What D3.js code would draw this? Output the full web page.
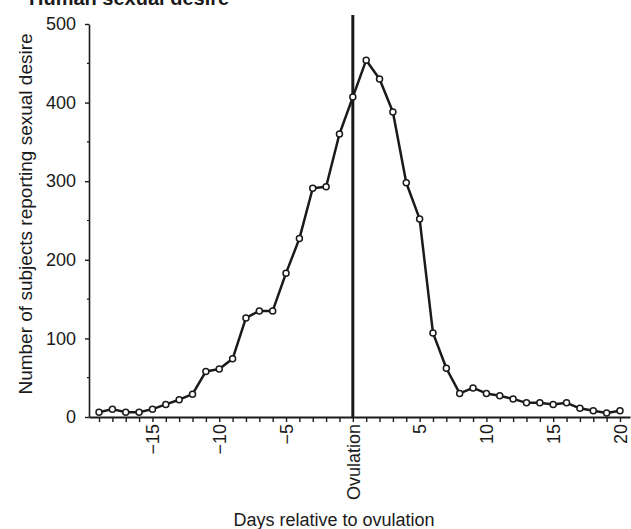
<!DOCTYPE html>
<html>
<head>
<meta charset="utf-8">
<script src="https://cdn.jsdelivr.net/npm/d3@7"></script>
<style>
  body { margin: 0; background: #fff; }
  svg { display: block; font-family: "Liberation Sans", Arial, sans-serif; }
</style>
</head>
<body>
<svg id="chart" width="631" height="529"></svg>
<script>
// days relative to ovulation and number of subjects reporting desire
const days = d3.range(-19, 21);
const counts = [6, 10, 6, 6, 10, 16, 22, 29, 58, 61,
                74, 126, 135, 135, 183, 227, 291, 293, 360, 407,
                454, 430, 388, 298, 252, 107, 62, 30, 37, 30,
                27, 23, 18, 18, 16, 18, 11, 8, 5, 8];
const xLabelTicks = [-15, -10, -5, 0, 5, 10, 15, 20];
const yTicks = [0, 100, 200, 300, 400, 500];
const yMinorTicks = [50, 150, 250, 350, 450];

const svg = d3.select("#chart");
const ink = "#1a1a1a";

const x = d3.scaleLinear().domain([-19.75, 20.75]).range([89, 630]);
const y = d3.scaleLinear().domain([0, 500]).range([417, 24]);

const points = days.map((d, i) => ({ day: d, value: counts[i] }));

// title (cut at top in original)
svg.append("text")
    .attr("x", 29)
    .attr("y", 5)
    .attr("font-size", 20)
    .attr("font-weight", "bold")
    .attr("fill", ink)
    .text("Human sexual desire");

// y axis
const yAxis = svg.append("g")
    .attr("transform", "translate(89,0)")
    .call(d3.axisLeft(y).tickValues(yTicks).tickSize(4).tickSizeOuter(0).tickPadding(9));
yAxis.select(".domain").attr("stroke", ink).attr("stroke-width", 1.6);
yAxis.selectAll(".tick line").attr("stroke", ink).attr("stroke-width", 1.4);
yAxis.selectAll("text").attr("font-size", 18).attr("fill", ink);

svg.append("g").selectAll("line")
    .data(yMinorTicks)
    .enter().append("line")
    .attr("x1", 87).attr("x2", 89)
    .attr("y1", d => y(d)).attr("y2", d => y(d))
    .attr("stroke", ink).attr("stroke-width", 1.2);

// x axis
const xAxis = svg.append("g")
    .attr("transform", "translate(0,417)")
    .call(d3.axisBottom(x).tickValues(days).tickSize(5).tickSizeOuter(0)
        .tickFormat(d => {
            if (xLabelTicks.indexOf(d) < 0) return "";
            if (d === 0) return "Ovulation";
            return d < 0 ? "\u2212" + Math.abs(d) : String(d);
        }));
xAxis.select(".domain").attr("stroke", ink).attr("stroke-width", 2);
xAxis.selectAll(".tick line").attr("stroke", ink).attr("stroke-width", 1.4);
xAxis.selectAll("text")
    .attr("font-size", 18)
    .attr("fill", ink)
    .attr("transform", "rotate(-90)")
    .attr("x", -7)
    .attr("y", 0)
    .attr("dy", "0.35em")
    .attr("text-anchor", "end");

// ovulation line
svg.append("line")
    .attr("x1", x(0)).attr("x2", x(0))
    .attr("y1", 15).attr("y2", 417)
    .attr("stroke", ink)
    .attr("stroke-width", 3);

// axis titles
svg.append("text")
    .attr("x", 334)
    .attr("y", 526)
    .attr("text-anchor", "middle")
    .attr("font-size", 18)
    .attr("fill", ink)
    .text("Days relative to ovulation");

svg.append("text")
    .attr("transform", "translate(32,214) rotate(-90)")
    .attr("text-anchor", "middle")
    .attr("font-size", 19)
    .attr("fill", ink)
    .text("Number of subjects reporting sexual desire");

// series
const line = d3.line().x(d => x(d.day)).y(d => y(d.value));
svg.append("path")
    .datum(points)
    .attr("d", line)
    .attr("fill", "none")
    .attr("stroke", ink)
    .attr("stroke-width", 2.5)
    .attr("stroke-linejoin", "round");

svg.append("g").selectAll("circle")
    .data(points)
    .enter().append("circle")
    .attr("cx", d => x(d.day))
    .attr("cy", d => y(d.value))
    .attr("r", 3)
    .attr("fill", "#fff")
    .attr("stroke", ink)
    .attr("stroke-width", 1.5);
</script>
</body>
</html>
